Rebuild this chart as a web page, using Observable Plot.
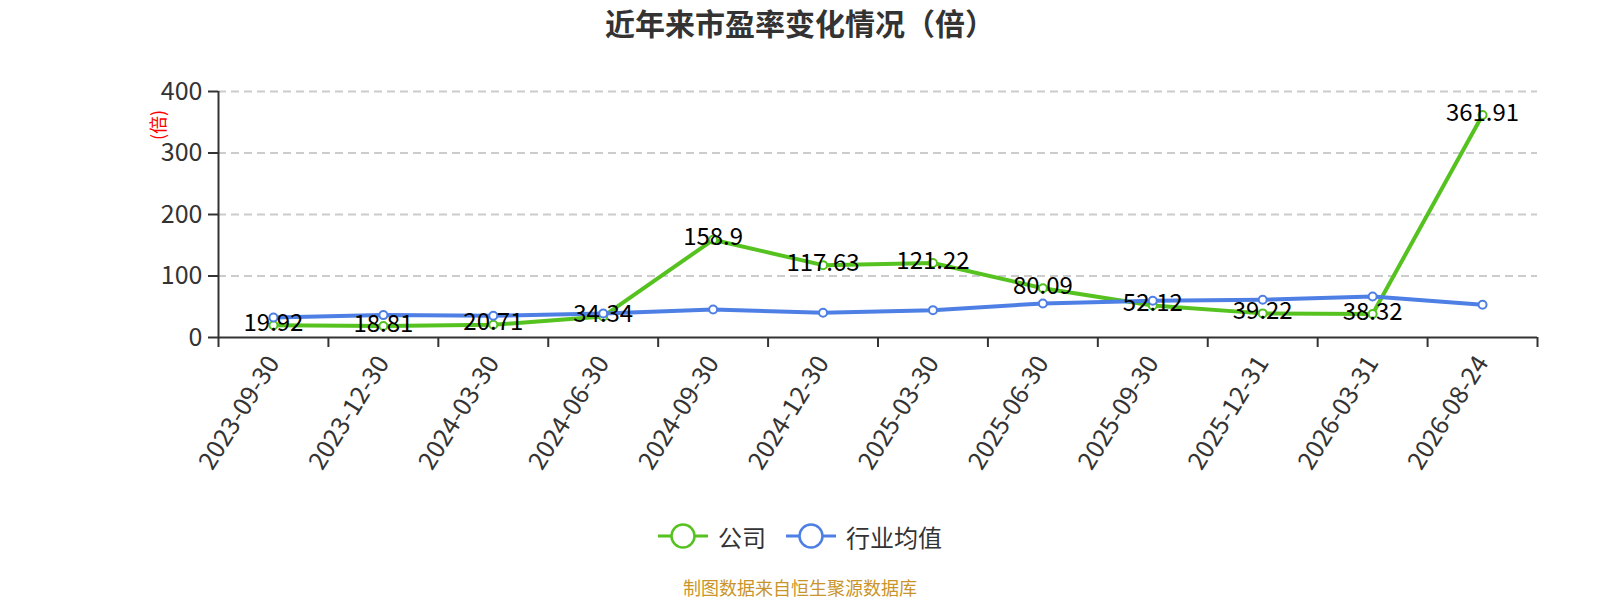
<!DOCTYPE html>
<html><head><meta charset="utf-8">
<script src="https://cdn.jsdelivr.net/npm/d3@7"></script>
<script src="https://cdn.jsdelivr.net/npm/@observablehq/plot@0.6"></script>
<style>
body{margin:0;background:#fff;}
#wrap{position:relative;width:1600px;height:600px;overflow:hidden;font-family:"Noto Sans CJK SC","Noto Sans",sans-serif;background:#fff;}
#chart{position:absolute;left:0;top:0;}
#title{position:absolute;top:0;left:0;width:1600px;text-align:center;font-size:30px;font-weight:bold;color:#333;line-height:44px;}
#yname{position:absolute;left:157px;top:125px;transform:translate(-50%,-50%) rotate(-90deg);color:#ff0000;font-size:18px;line-height:18px;white-space:nowrap;}
#legend{position:absolute;left:0;width:1600px;top:516px;height:40px;display:flex;justify-content:center;align-items:center;font-size:24px;color:#333;}
.item{display:flex;align-items:center;}
.item svg{margin-right:10px;}
.item + .item{margin-left:20px;}
#footer{position:absolute;left:0;width:1600px;top:576px;text-align:center;font-size:18px;line-height:22px;color:#c9952b;}
</style></head>
<body>
<div id="wrap">
  <div id="chart"></div>
  <div id="title"></div>
  <div id="yname"></div>
  <div id="legend"></div>
  <div id="footer"></div>
</div>
<script>
const titleText = "近年来市盈率变化情况（倍）";
const yAxisName = "(倍)";
const footerText = "制图数据来自恒生聚源数据库";
const dates = ["2023-09-30","2023-12-30","2024-03-30","2024-06-30","2024-09-30","2024-12-30","2025-03-30","2025-06-30","2025-09-30","2025-12-31","2026-03-31","2026-08-24"];
const company = [19.92,18.81,20.71,34.34,158.9,117.63,121.22,80.09,52.12,39.22,38.32,361.91];
const industry = [32.5,36.4,35.3,39,45.5,40.2,44.5,55.3,59.7,61.3,66.7,53.2];
const seriesNames = ["公司","行业均值"];
const seriesColors = ["#55c21f","#4e7fe4"];
const yTicks = [0,100,200,300,400];

const rowsC = dates.map((d,i)=>({i, date:d, v:company[i]}));
const rowsI = dates.map((d,i)=>({i, date:d, v:industry[i]}));
const cx = d => d.i + 0.5;
const centers = dates.map((d,i)=>i+0.5);
const bounds = d3.range(dates.length+1);

const chart = Plot.plot({
  width:1600, height:600,
  marginTop:91, marginBottom:263, marginLeft:218, marginRight:63,
  style:{fontFamily:'"Noto Sans CJK SC","Noto Sans",sans-serif', fontSize:"24px", background:"transparent", overflow:"visible"},
  x:{domain:[0,dates.length], axis:null},
  y:{domain:[0,400], axis:null},
  marks:[
    Plot.gridY([100,200,300,400], {stroke:"#cccccc", strokeOpacity:1, strokeWidth:2, strokeDasharray:"8,5"}),
    Plot.axisY(yTicks, {label:null, tickSize:10, tickPadding:6, fontSize:25, color:"#333", strokeWidth:2, tickFormat:d=>String(d)}),
    Plot.axisX(bounds, {label:null, tickSize:10, tickFormat:()=>"", color:"#333", strokeWidth:2}),
    Plot.axisX(centers, {label:null, tickSize:0, tickPadding:21, tickRotate:-58, textAnchor:"end", lineAnchor:"middle", fontSize:25, fill:"#333", tickFormat:d=>dates[Math.floor(d)]}),
    Plot.ruleY([0], {stroke:"#333", strokeWidth:2}),
    Plot.ruleX([0], {stroke:"#333", strokeWidth:2}),
    Plot.line(rowsC, {x:cx, y:"v", stroke:seriesColors[0], strokeWidth:4}),
    Plot.dot(rowsC, {x:cx, y:"v", r:4, fill:"white", stroke:seriesColors[0], strokeWidth:2}),
    Plot.line(rowsI, {x:cx, y:"v", stroke:seriesColors[1], strokeWidth:4}),
    Plot.dot(rowsI, {x:cx, y:"v", r:4, fill:"white", stroke:seriesColors[1], strokeWidth:2}),
    Plot.text(rowsC, {x:cx, y:"v", text:d=>String(d.v), fill:"#000", fontSize:24, lineAnchor:"middle", dy:-2})
  ]
});
document.getElementById("chart").appendChild(chart);
document.getElementById("title").textContent = titleText;
document.getElementById("yname").textContent = yAxisName;
document.getElementById("footer").textContent = footerText;

const legend = document.getElementById("legend");
seriesNames.forEach((name,k)=>{
  const item = document.createElement("div");
  item.className = "item";
  const c = seriesColors[k];
  item.innerHTML = `<svg width="50" height="28" viewBox="0 0 50 28"><line x1="0" y1="14" x2="50" y2="14" stroke="${c}" stroke-width="3"/><circle cx="25" cy="14" r="11.5" fill="white" stroke="${c}" stroke-width="2.5"/></svg><span>${name}</span>`;
  legend.appendChild(item);
});
</script>
</body></html>
